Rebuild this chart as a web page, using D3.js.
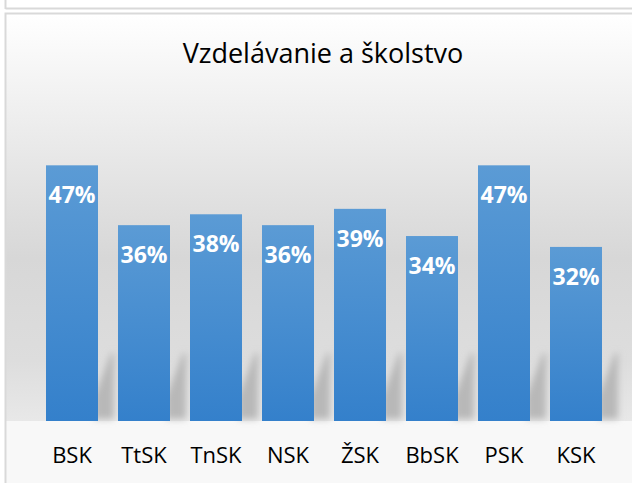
<!DOCTYPE html>
<html>
<head>
<meta charset="utf-8">
<script src="https://cdn.jsdelivr.net/npm/d3@7"></script>
<style>
  body { margin: 0; background: #ffffff; overflow: hidden; }
  svg { display: block; }
</style>
</head>
<body>
<div id="vis"></div>
<script>
// data
const CATEGORIES = ["BSK", "TtSK", "TnSK", "NSK", "ŽSK", "BbSK", "PSK", "KSK"];
const VALUES = [0.47, 0.36, 0.38, 0.36, 0.39, 0.34, 0.47, 0.32];
const TITLE = "Vzdelávanie a školstvo";

// frame constants
const FRAME_WIDTH = 632;
const FRAME_HEIGHT = 483;
const BOX = {left: 5.5, top: 13.5};
const PLOT = {left: 36, right: 612, top: 149, bottom: 421};

const data = CATEGORIES.map((c, i) => ({category: c, value: VALUES[i]}));

const FRAME = d3.select("#vis")
  .append("svg")
    .attr("width", FRAME_WIDTH)
    .attr("height", FRAME_HEIGHT);

const defs = FRAME.append("defs");

// chart background gradient
const bgGrad = defs.append("linearGradient")
    .attr("id", "bgGrad")
    .attr("gradientUnits", "userSpaceOnUse")
    .attr("x1", 0).attr("y1", BOX.top)
    .attr("x2", 0).attr("y2", PLOT.bottom);
[[0, "#ffffff"], [0.3, "#ebebeb"], [0.6, "#d7d7d7"], [0.85, "#dddddd"], [1, "#e8e8e8"]]
  .forEach(s => bgGrad.append("stop").attr("offset", s[0]).attr("stop-color", s[1]));

// bar gradient
const barGrad = defs.append("linearGradient")
    .attr("id", "barGrad")
    .attr("x1", 0).attr("y1", 0).attr("x2", 0).attr("y2", 1);
barGrad.append("stop").attr("offset", 0).attr("stop-color", "#5b9bd5");
barGrad.append("stop").attr("offset", 1).attr("stop-color", "#3480cb");

// shadow blur
defs.append("filter")
    .attr("id", "blur")
    .attr("x", "-50%").attr("y", "-50%").attr("width", "200%").attr("height", "200%")
  .append("feGaussianBlur")
    .attr("stdDeviation", 3.5);

// cell borders above the chart
FRAME.append("line")
    .attr("x1", BOX.left).attr("x2", FRAME_WIDTH)
    .attr("y1", 8.5).attr("y2", 8.5)
    .attr("stroke", "#d9d9d9").attr("stroke-width", 2);
FRAME.append("line")
    .attr("x1", BOX.left).attr("x2", BOX.left)
    .attr("y1", 0).attr("y2", 9)
    .attr("stroke", "#d9d9d9").attr("stroke-width", 2);

// chart area
FRAME.append("rect")
    .attr("x", BOX.left).attr("y", BOX.top)
    .attr("width", FRAME_WIDTH + 20).attr("height", PLOT.bottom - BOX.top)
    .attr("fill", "url(#bgGrad)");
FRAME.append("rect")
    .attr("x", BOX.left).attr("y", PLOT.bottom)
    .attr("width", FRAME_WIDTH + 20).attr("height", FRAME_HEIGHT - PLOT.bottom + 20)
    .attr("fill", "#f8f8f8");
FRAME.append("rect")
    .attr("x", BOX.left).attr("y", BOX.top)
    .attr("width", FRAME_WIDTH + 20).attr("height", FRAME_HEIGHT + 20)
    .attr("fill", "none")
    .attr("stroke", "#d9d9d9").attr("stroke-width", 2);

// scales
const X_SCALE = d3.scaleBand()
    .domain(CATEGORIES)
    .range([PLOT.left, PLOT.right])
    .paddingInner(20 / 72)
    .paddingOuter(10 / 72);

const Y_SCALE = d3.scaleLinear()
    .domain([0, 0.5])
    .range([PLOT.bottom, PLOT.top]);

const BW = X_SCALE.bandwidth();

// perspective-like shadows behind bars
FRAME.append("g")
    .attr("filter", "url(#blur)")
  .selectAll("polygon")
  .data(data)
  .enter()
  .append("polygon")
    .attr("points", (d) => {
      const x1 = X_SCALE(d.category) + BW;
      const b = Y_SCALE(0);
      return [[x1 - 4, b - 24], [x1 + 13, b - 68], [x1 + 16, b - 68],
              [x1 + 16, b - 2], [x1 - 4, b - 2]].map(p => p.join(",")).join(" ");
    })
    .attr("fill", "#b8b8b8");

// bars
FRAME.selectAll(".bar")
  .data(data)
  .enter()
  .append("rect")
    .attr("class", "bar")
    .attr("x", (d) => X_SCALE(d.category))
    .attr("y", (d) => Y_SCALE(d.value))
    .attr("width", BW)
    .attr("height", (d) => Y_SCALE(0) - Y_SCALE(d.value))
    .attr("fill", "url(#barGrad)");

// value labels
FRAME.selectAll(".val")
  .data(data)
  .enter()
  .append("text")
    .attr("class", "val")
    .attr("x", (d) => X_SCALE(d.category) + BW / 2)
    .attr("y", (d) => Y_SCALE(d.value) + 38)
    .attr("text-anchor", "middle")
    .attr("font-family", "'Open Sans', sans-serif")
    .attr("font-weight", "bold")
    .attr("font-size", "23px")
    .attr("fill", "#ffffff")
    .text((d) => Math.round(d.value * 100) + "%");

// category axis
const xAxis = FRAME.append("g")
    .attr("transform", "translate(0," + PLOT.bottom + ")")
    .call(d3.axisBottom(X_SCALE).tickSize(0).tickPadding(0));
xAxis.select(".domain").remove();
xAxis.selectAll("text")
    .attr("y", 42)
    .attr("dy", null)
    .attr("font-family", "'Open Sans', sans-serif")
    .attr("font-size", "22px")
    .attr("fill", "#000000");

// title
FRAME.append("text")
    .attr("x", 323)
    .attr("y", 63)
    .attr("text-anchor", "middle")
    .attr("font-family", "'Open Sans', sans-serif")
    .attr("font-size", "27px")
    .attr("fill", "#000000")
    .text(TITLE);
</script>
</body>
</html>
